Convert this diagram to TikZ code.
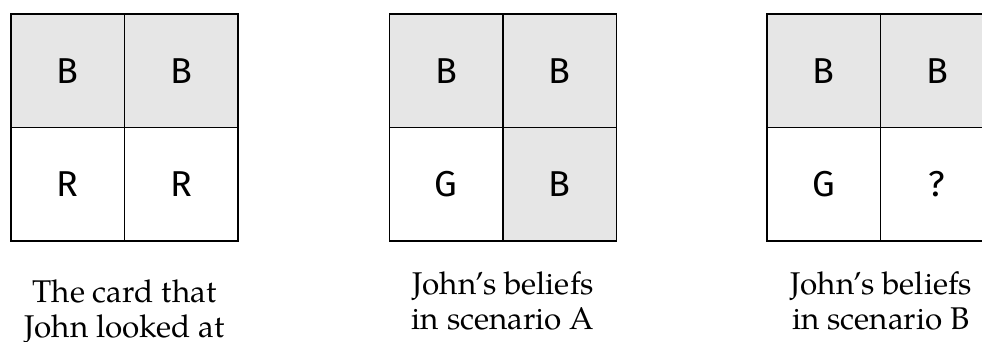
\documentclass[tikz,border=0pt]{standalone}
\usepackage{fontspec}
\setmainfont{TeX Gyre Pagella}
\newfontfamily\cellfont{Fira Sans}
\definecolor{cellgray}{HTML}{E6E6E6}
\tikzset{
  cell/.style={draw=black, line width=0.75pt, minimum width=56.75pt, minimum height=56.75pt, inner sep=0pt, font=\cellfont\fontsize{18}{18}\selectfont},
  greycell/.style={cell, fill=cellgray},
  caption/.style={align=center, anchor=base, inner sep=0pt, font=\fontsize{15.7}{17.5}\selectfont}
}
\begin{document}
\begin{tikzpicture}[x=0.5pt, y=-0.5pt]
\useasboundingbox (0,0) rectangle (982,342);
\clip (0,0) rectangle (982,342);
% card
\node[greycell] (c11) at (67.75,70.75) {B};
\node[greycell] (c12) at (181.25,70.75) {B};
\node[cell] (c21) at (67.75,184.25) {R};
\node[cell] (c22) at (181.25,184.25) {R};
\node[caption] (capc) at (124.5,338) {The card that\\John looked at};
% scenario A
\node[greycell] (a11) at (446.25,70.75) {B};
\node[greycell] (a12) at (559.75,70.75) {B};
\node[cell] (a21) at (446.25,184.25) {G};
\node[greycell] (a22) at (559.75,184.25) {B};
\node[caption] (capa) at (503,330) {John’s beliefs\\in scenario A};
% scenario B
\node[greycell] (b11) at (823.75,70.75) {B};
\node[greycell] (b12) at (937.25,70.75) {B};
\node[cell] (b21) at (823.75,184.25) {G};
\node[cell] (b22) at (937.25,184.25) {?};
\node[caption] (capb) at (881,330) {John’s beliefs\\in scenario B};
\end{tikzpicture}
\end{document}
